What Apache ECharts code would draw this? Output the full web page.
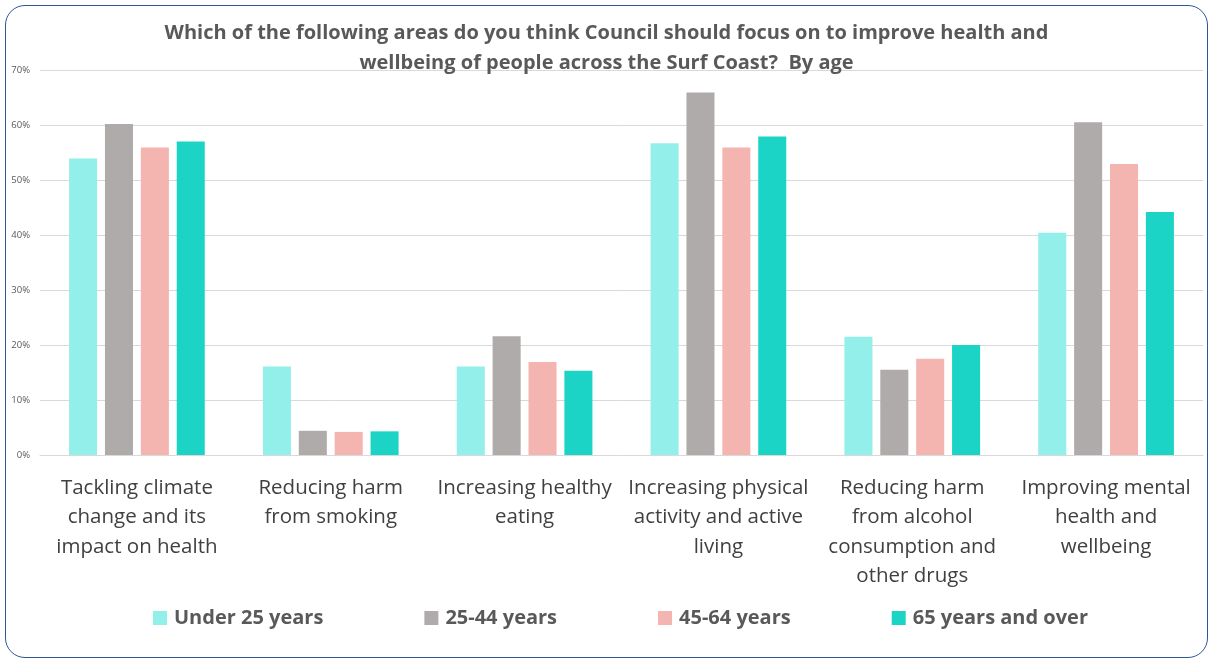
<!DOCTYPE html>
<html><head><meta charset="utf-8">
<script src="https://cdn.jsdelivr.net/npm/echarts@6/dist/echarts.min.js"></script>
<style>
html,body{margin:0;padding:0;background:#fff;}
#wrap{position:absolute;left:5px;top:5px;width:1203px;height:653px;border:1.5px solid #2f5597;border-radius:20px;box-sizing:border-box;}
#chart{position:absolute;left:0;top:0;width:1213px;height:664px;}
</style></head>
<body>
<div id="wrap"></div>
<div id="chart"></div>
<script>
var titleText = "Which of the following areas do you think Council should focus on to improve health and\nwellbeing of people across the Surf Coast?  By age";
var categories = [
  "Tackling climate\nchange and its\nimpact on health",
  "Reducing harm\nfrom smoking",
  "Increasing healthy\neating",
  "Increasing physical\nactivity and active\nliving",
  "Reducing harm\nfrom alcohol\nconsumption and\nother drugs",
  "Improving mental\nhealth and\nwellbeing"
];
var seriesNames = ["Under 25 years", "25-44 years", "45-64 years", "65 years and over"];
var under25 = [53.9, 16.1, 16.1, 56.7, 21.5, 40.4];
var age25to44 = [60.2, 4.4, 21.6, 65.9, 15.5, 60.5];
var age45to64 = [55.9, 4.2, 16.9, 55.9, 17.5, 52.9];
var age65plus = [57.0, 4.3, 15.3, 57.9, 20.0, 44.2];
var yTicks = [0, 10, 20, 30, 40, 50, 60, 70];

var colors = ["#93EFE9", "#AFABAA", "#F4B4B0", "#1CD4C6"];
var dataSets = [under25, age25to44, age45to64, age65plus];
var font = "Open Sans";

var chart = echarts.init(document.getElementById('chart'));
chart.setOption({
  animation: false,
  textStyle: {fontFamily: font},
  title: {
    text: titleText,
    left: 'center',
    top: 13,
    textStyle: {fontFamily: font, fontSize: 20, fontWeight: 'bold', color: '#595959', lineHeight: 30}
  },
  legend: {
    data: seriesNames,
    top: 603,
    left: 148,
    itemWidth: 14,
    itemHeight: 14,
    itemGap: 101,
    icon: 'rect',
    textStyle: {fontFamily: font, fontSize: 20, fontWeight: 'bold', color: '#595959', padding: [0, 0, 0, 2]}
  },
  grid: {left: 40, right: 10, top: 70, bottom: 209, containLabel: false},
  xAxis: {
    type: 'category',
    data: categories,
    axisLine: {show: true, lineStyle: {color: '#d9d9d9'}},
    axisTick: {show: false},
    axisLabel: {interval: 0, margin: 18, fontFamily: font, fontSize: 20.5, color: '#404040', lineHeight: 29.5}
  },
  yAxis: {
    type: 'value',
    min: yTicks[0],
    max: yTicks[yTicks.length - 1],
    interval: 10,
    axisLabel: {formatter: '{value}%', fontFamily: font, fontSize: 9.5, color: '#595959', margin: 10},
    splitLine: {lineStyle: {color: '#d9d9d9'}},
    axisLine: {show: false},
    axisTick: {show: false}
  },
  series: seriesNames.map(function (n, i) {
    return {
      name: n,
      type: 'bar',
      data: dataSets[i],
      barGap: '28%',
      barCategoryGap: '30%',
      itemStyle: {color: colors[i]}
    };
  })
});
</script>
</body></html>
